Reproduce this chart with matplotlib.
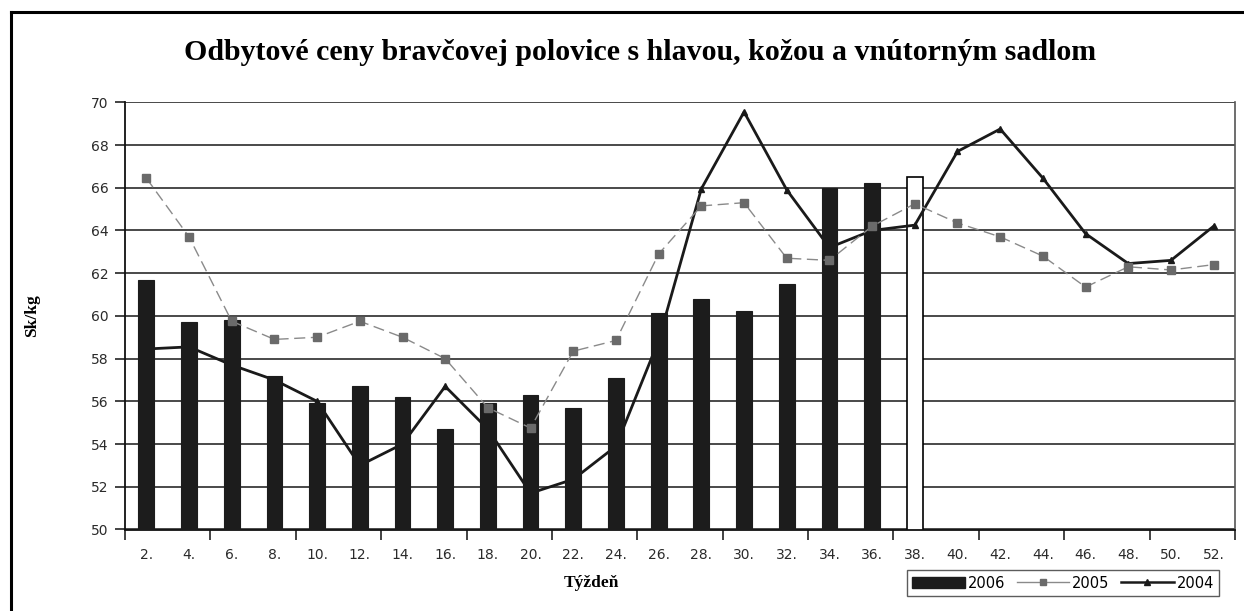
import matplotlib
matplotlib.use("Agg")
import matplotlib.pyplot as plt
from matplotlib.lines import Line2D
from matplotlib.patches import Patch
import numpy as np

weeks = ["2.", "4.", "6.", "8.", "10.", "12.", "14.", "16.", "18.", "20.", "22.", "24.", "26.",
         "28.", "30.", "32.", "34.", "36.", "38.", "40.", "42.", "44.", "46.", "48.", "50.", "52."]

bars_2006 = [61.7, 59.7, 59.8, 57.2, 55.9, 56.7, 56.2, 54.7, 55.9, 56.3, 55.7, 57.1,
             60.15, 60.8, 60.25, 61.5, 66.0, 66.2]
bar_2006_last = [66.5]   # week 38 (white bar)

y2005 = [66.45, 63.7, 59.75, 58.9, 59.0, 59.75, 59.0, 58.0, 55.7, 54.75, 58.35, 58.85, 62.9,
         65.15, 65.3, 62.7, 62.6, 64.2, 65.25, 64.35, 63.7, 62.8, 61.35, 62.3, 62.15, 62.4]
y2004 = [58.45, 58.55, 57.7, 57.0, 56.0, 53.0, 54.0, 56.7, 54.7, 51.7, 52.35, 53.9, 58.85,
         65.95, 69.55, 65.9, 63.2, 64.0, 64.25, 67.7, 68.75, 66.45, 63.85, 62.45, 62.6, 64.2]

yticks = [50, 52, 54, 56, 58, 60, 62, 64, 66, 68, 70]

W, H = 1244, 611
fig = plt.figure(figsize=(W / 100, H / 100), dpi=100)
ax = fig.add_axes([125 / W, 1 - 529.5 / H, (1235 - 125) / W, (529.5 - 102.3) / H])

x = np.arange(len(weeks))
bw = 0.37
serif = ["Liberation Serif", "DejaVu Serif"]

# 2004 line (below the bars)
ax.plot(x, y2004, color="#1a1a1a", lw=2.0, marker="^", ms=5, zorder=2)
# bars 2006
ax.bar(x[:len(bars_2006)], bars_2006, width=bw, color="#1c1c1c", edgecolor="#1c1c1c", lw=0.8, zorder=3)
ax.bar(x[len(bars_2006):len(bars_2006) + 1], bar_2006_last, width=bw, color="white",
       edgecolor="black", lw=1.2, zorder=1.5)
# 2005 line (above the bars)
ax.plot(x, y2005, color="#8a8a8a", lw=1.0, dashes=(8, 4), marker="s", ms=5.5,
        markerfacecolor="#6a6a6a", markeredgecolor="#6a6a6a", zorder=4)

ax.set_xlim(-0.5, len(weeks) - 0.5)
ax.set_ylim(50, 70)
ax.set_yticks(yticks)
ax.set_yticklabels([str(v) for v in yticks])
ax.yaxis.grid(True, color="#3a3a3a", lw=1.3)
ax.set_axisbelow(True)

ax.set_xticks(np.arange(-0.5, len(weeks), 2))
ax.set_xticklabels([])
ax.set_xticks(x, minor=True)
ax.set_xticklabels(weeks, minor=True)
ax.tick_params(axis="x", which="major", length=7, width=1.2, direction="out", color="#222")
ax.tick_params(axis="x", which="minor", length=0, pad=13, labelsize=10, labelcolor="#2a2a2a")
ax.tick_params(axis="y", length=7, width=1.2, direction="out", labelsize=10, labelcolor="#2a2a2a",
               pad=5, color="#222")

for s in ["left", "bottom"]:
    ax.spines[s].set_color("#111")
    ax.spines[s].set_linewidth(1.3)
ax.spines["top"].set_visible(False)
ax.spines["right"].set_color("#555")
ax.spines["right"].set_linewidth(1.2)

ax.set_ylabel("Sk/kg", family=serif, fontweight="bold", fontsize=12.5)
ax.yaxis.set_label_coords(-(125 - 40) / (1235 - 125), 0.5)
fig.text(591 / W, 1 - 583 / H, "Týždeň", family=serif, fontweight="bold", fontsize=12.5,
         ha="center", va="center")
fig.text(640 / W, 1 - 52 / H, "Odbytové ceny bravčovej polovice s hlavou, kožou a vnútorným sadlom",
         family=serif, fontweight="bold", fontsize=21.5, ha="center", va="center")

# outer frame
fig.add_artist(Line2D([11 / W, 11 / W], [0, 1 - 12 / H], color="black", lw=2.2, transform=fig.transFigure))
fig.add_artist(Line2D([11 / W, 1], [1 - 12 / H, 1 - 12 / H], color="black", lw=2.2, transform=fig.transFigure))

handles = [
    Patch(facecolor="#1c1c1c", edgecolor="#1c1c1c"),
    Line2D([], [], color="#8a8a8a", lw=1.0, marker="s", ms=5, markerfacecolor="#6a6a6a",
           markeredgecolor="#6a6a6a"),
    Line2D([], [], color="#1a1a1a", lw=1.8, marker="^", ms=5),
]
leg = fig.legend(handles, ["2006", "2005", "2004"], ncol=3, loc="center",
                 bbox_to_anchor=(1063 / W, 1 - 583 / H), fontsize=10.5, frameon=True,
                 fancybox=False, edgecolor="#333", handlelength=3.6, handletextpad=0.2,
                 columnspacing=0.8, borderpad=0.35, borderaxespad=0)
leg.get_frame().set_linewidth(1.0)

fig.savefig("out.png", dpi=100)
